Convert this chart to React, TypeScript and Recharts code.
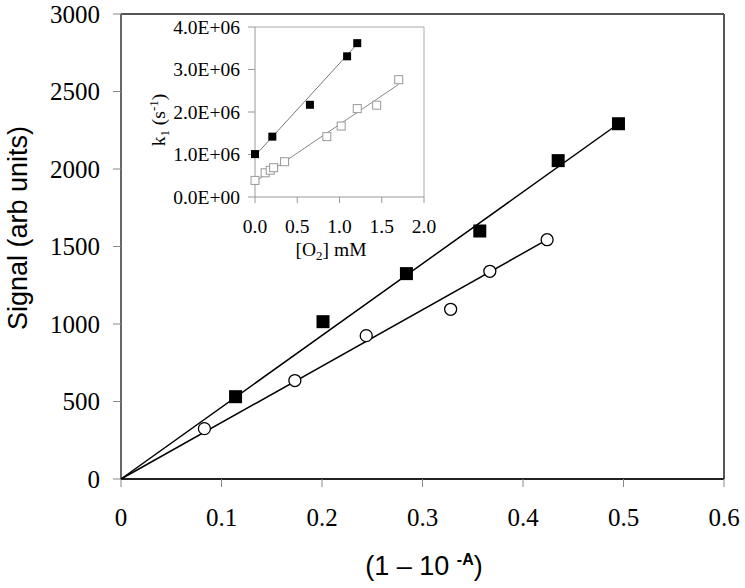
import React from 'react';
import { ScatterChart, Scatter, XAxis, YAxis, ReferenceLine } from 'recharts';

// ---------- main chart data ----------
const mainXTicks = [0, 0.1, 0.2, 0.3, 0.4, 0.5, 0.6];
const mainXTickLabels = ['0', '0.1', '0.2', '0.3', '0.4', '0.5', '0.6'];
const mainYTicks = [0, 500, 1000, 1500, 2000, 2500, 3000];

const squaresX = [0.114, 0.201, 0.284, 0.357, 0.435, 0.495];
const squaresY = [531, 1015, 1325, 1600, 2054, 2292];
const circlesX = [0.083, 0.173, 0.244, 0.328, 0.367, 0.424];
const circlesY = [325, 635, 925, 1095, 1340, 1544];

const squaresFitX = [0, 0.495];
const squaresFitY = [0, 2292];
const circlesFitX = [0, 0.424];
const circlesFitY = [0, 1544];

// ---------- inset data ----------
const insetXTicks = [0, 0.5, 1, 1.5, 2];
const insetXTickLabels = ['0.0', '0.5', '1.0', '1.5', '2.0'];
const insetYTicks = [0, 1e6, 2e6, 3e6, 4e6];
const insetYTickLabels = ['0.0E+00', '1.0E+06', '2.0E+06', '3.0E+06', '4.0E+06'];

const filledX = [0, 0.205, 0.65, 1.09, 1.21];
const filledY = [1.01e6, 1.42e6, 2.17e6, 3.31e6, 3.62e6];
const openX = [0, 0.12, 0.18, 0.22, 0.35, 0.85, 1.02, 1.21, 1.44, 1.7];
const openY = [0.39e6, 0.57e6, 0.63e6, 0.69e6, 0.83e6, 1.42e6, 1.67e6, 2.08e6, 2.16e6, 2.76e6];

const filledFitX = [0, 1.21];
const filledFitY = [0.97e6, 3.6e6];
const openFitX = [0, 1.7];
const openFitY = [0.36e6, 2.65e6];

const zip = (xs: number[], ys: number[]) => xs.map((x, i) => ({ x, y: ys[i] }));

const SERIF = '"Liberation Serif", "Times New Roman", serif';
const SANS = '"Liberation Sans", Arial, sans-serif';

const BigSquare = (p: any) => (
  <rect x={p.cx - 6.5} y={p.cy - 6.5} width={13} height={13} fill="#000" />
);
const OpenCircle = (p: any) => (
  <circle cx={p.cx} cy={p.cy} r={6} fill="#fff" stroke="#000" strokeWidth={1.3} />
);
const SmallSquare = (p: any) => (
  <rect x={p.cx - 4} y={p.cy - 4} width={8} height={8} fill="#000" />
);
const SmallOpenSquare = (p: any) => (
  <rect x={p.cx - 4} y={p.cy - 4} width={8} height={8} fill="#fff" stroke="#999" strokeWidth={1} />
);
const NoShape = () => <g />;

const MainXTitle = () => (
  <text x={424} y={575} textAnchor="middle" fontFamily={SANS} fontSize={27} fill="#000">
    <tspan>(1 – 10 </tspan>
    <tspan fontSize={16} fontWeight="bold" dy={-10}>-A</tspan>
    <tspan dy={10}>)</tspan>
  </text>
);
const MainYTitle = () => (
  <text x={27} y={228} transform="rotate(-90, 27, 228)" textAnchor="middle" fontFamily={SANS} fontSize={27} fill="#000">
    Signal (arb units)
  </text>
);

// inset label positions are in inset svg coordinates (inset div left=140, top=0)
const InsetXTitle = () => (
  <text x={331 - 140} y={256} textAnchor="middle" fontFamily={SERIF} fontSize={19.5} fill="#000">
    <tspan>[O</tspan>
    <tspan fontSize={13} dy={4}>2</tspan>
    <tspan dy={-4}>] mM</tspan>
  </text>
);
const InsetYTitle = () => {
  const x = 165 - 140;
  const y = 120;
  return (
    <text x={x} y={y} transform={`rotate(-90, ${x}, ${y})`} textAnchor="middle" fontFamily={SERIF} fontSize={19.5} fill="#000">
      <tspan>k</tspan>
      <tspan fontSize={13} dy={4}>1</tspan>
      <tspan dy={-4}> (s</tspan>
      <tspan fontSize={13} dy={-7}>-1</tspan>
      <tspan dy={7}>)</tspan>
    </text>
  );
};

export default function App() {
  return (
    <div style={{ position: 'relative', width: 745, height: 588 }}>
      <style>{'body{margin:0;background:#fff}'}</style>
      <ScatterChart width={745} height={588} margin={{ top: 14, right: 21, left: 0, bottom: 0 }}>
        <XAxis
          type="number"
          dataKey="x"
          domain={[0, 0.6]}
          ticks={mainXTicks}
          interval={0}
          tickFormatter={(v: number) => mainXTickLabels[mainXTicks.indexOf(v)] ?? String(v)}
          tick={{ fontFamily: SERIF, fontSize: 25, fill: '#000' }}
          tickSize={8}
          tickMargin={21}
          height={109}
          axisLine={{ stroke: '#222', strokeWidth: 2 }}
          tickLine={{ stroke: '#888', strokeWidth: 1 }}
          label={<MainXTitle />}
        />
        <YAxis
          type="number"
          dataKey="y"
          domain={[0, 3000]}
          ticks={mainYTicks}
          interval={0}
          tick={{ fontFamily: SERIF, fontSize: 25, fill: '#000' }}
          tickSize={8}
          tickMargin={13}
          width={121}
          axisLine={{ stroke: '#666', strokeWidth: 2 }}
          tickLine={{ stroke: '#888', strokeWidth: 1 }}
          label={<MainYTitle />}
        />
        <ReferenceLine y={3000} stroke="#555" strokeWidth={2} />
        <ReferenceLine x={0.6} stroke="#555" strokeWidth={2} />
        <Scatter data={zip(squaresFitX, squaresFitY)} line={{ stroke: '#000', strokeWidth: 1.5 }} shape={NoShape} isAnimationActive={false} />
        <Scatter data={zip(circlesFitX, circlesFitY)} line={{ stroke: '#000', strokeWidth: 1.5 }} shape={NoShape} isAnimationActive={false} />
        <Scatter data={zip(squaresX, squaresY)} shape={BigSquare} isAnimationActive={false} />
        <Scatter data={zip(circlesX, circlesY)} shape={OpenCircle} isAnimationActive={false} />
      </ScatterChart>

      <div style={{ position: 'absolute', left: 140, top: 0, width: 300, height: 270 }}>
        <ScatterChart width={300} height={270} margin={{ top: 27, right: 16, left: 0, bottom: 0 }}>
          <XAxis
            type="number"
            dataKey="x"
            domain={[0, 2]}
            ticks={insetXTicks}
            interval={0}
            tickFormatter={(v: number) => insetXTickLabels[insetXTicks.indexOf(v)] ?? String(v)}
            tick={{ fontFamily: SERIF, fontSize: 19.5, fill: '#000' }}
            tickSize={6}
            tickMargin={16}
            height={73}
            axisLine={{ stroke: '#999', strokeWidth: 1 }}
            tickLine={{ stroke: '#999', strokeWidth: 1 }}
            label={<InsetXTitle />}
          />
          <YAxis
            type="number"
            dataKey="y"
            domain={[0, 4e6]}
            ticks={insetYTicks}
            interval={0}
            tickFormatter={(v: number) => insetYTickLabels[insetYTicks.indexOf(v)] ?? String(v)}
            tick={{ fontFamily: SERIF, fontSize: 19.5, fill: '#000' }}
            tickSize={7}
            tickMargin={8}
            width={115}
            axisLine={{ stroke: '#999', strokeWidth: 1 }}
            tickLine={{ stroke: '#999', strokeWidth: 1 }}
            label={<InsetYTitle />}
          />
          <ReferenceLine y={4e6} stroke="#aaa" strokeWidth={1} />
          <ReferenceLine x={2} stroke="#aaa" strokeWidth={1} />
          <Scatter data={zip(filledFitX, filledFitY)} line={{ stroke: '#777', strokeWidth: 1 }} shape={NoShape} isAnimationActive={false} />
          <Scatter data={zip(openFitX, openFitY)} line={{ stroke: '#888', strokeWidth: 1 }} shape={NoShape} isAnimationActive={false} />
          <Scatter data={zip(filledX, filledY)} shape={SmallSquare} isAnimationActive={false} />
          <Scatter data={zip(openX, openY)} shape={SmallOpenSquare} isAnimationActive={false} />
        </ScatterChart>
      </div>
    </div>
  );
}
